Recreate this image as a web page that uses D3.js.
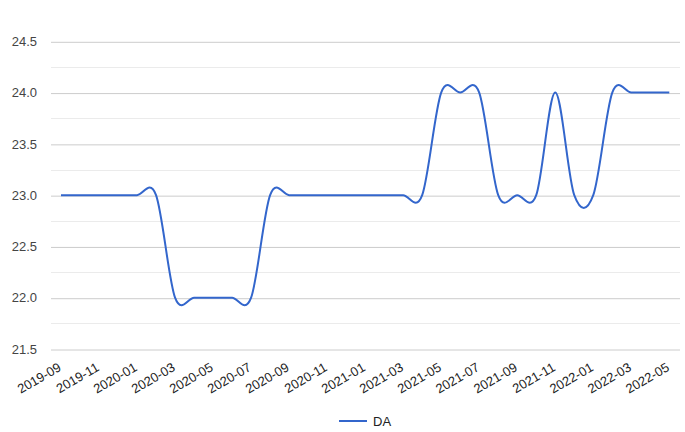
<!DOCTYPE html>
<html><head><meta charset="utf-8">
<script src="https://cdn.jsdelivr.net/npm/d3@7"></script>
<style>
html,body{margin:0;padding:0;background:#fff;}
svg{display:block;font-family:"Liberation Sans",Arial,sans-serif;}
</style></head>
<body><svg id="c" width="685" height="432"></svg>
<script>
const months = ["2019-09","2019-10","2019-11","2019-12","2020-01","2020-02","2020-03","2020-04","2020-05","2020-06","2020-07","2020-08","2020-09","2020-10","2020-11","2020-12","2021-01","2021-02","2021-03","2021-04","2021-05","2021-06","2021-07","2021-08","2021-09","2021-10","2021-11","2021-12","2022-01","2022-02","2022-03","2022-04","2022-05"];
const daValues = [23,23,23,23,23,23,22,22,22,22,22,23,23,23,23,23,23,23,23,23,24,24,24,23,23,23,24,23,23,24,24,24,24];
const yTicks = [21.5,22.0,22.5,23.0,23.5,24.0,24.5];
const yMinorTicks = [21.75,22.25,22.75,23.25,23.75,24.25];
const xTickLabels = months.filter((m,i)=>i%2===0);
const seriesName = "DA";

const svg = d3.select("#c");
const plotLeft = 51, plotRight = 680;
const x = d3.scalePoint().domain(months).range([61, 669.3]);
const y = d3.scaleLinear().domain([21.5, 24.5]).range([349, 41.3]);

// minor gridlines
svg.append("g").selectAll("line").data(yMinorTicks).join("line")
  .attr("x1", plotLeft).attr("x2", plotRight)
  .attr("y1", d=>Math.round(y(d))+0.5).attr("y2", d=>Math.round(y(d))+0.5)
  .attr("stroke", "#ebebeb").attr("stroke-width", 1);

// major gridlines + labels via axis
const yAxis = d3.axisLeft(y).tickValues(yTicks).tickFormat(d3.format(".1f"))
  .tickSize(-(plotRight-plotLeft)).tickPadding(14);
const gy = svg.append("g").attr("transform", `translate(${plotLeft},0)`).call(yAxis);
gy.select(".domain").remove();
gy.selectAll(".tick line").attr("stroke", "#cccccc").attr("transform","translate(0,0.5)");
gy.selectAll(".tick text").attr("fill", "#444").attr("font-size", 13)
  .attr("font-family", "'Liberation Sans',Arial,sans-serif");

// x axis labels
const xAxis = d3.axisBottom(x).tickValues(xTickLabels).tickSize(0).tickPadding(0);
const gx = svg.append("g").attr("transform", "translate(0,0)").call(xAxis);
gx.select(".domain").remove();
gx.selectAll(".tick").attr("transform", d=>`translate(${x(d)+1},370)`);
gx.selectAll(".tick text")
  .attr("y", 0).attr("dy", 0).attr("x", 0)
  .attr("transform", "rotate(-30)")
  .attr("text-anchor", "end")
  .attr("fill", "#222").attr("font-size", 13)
  .attr("font-family", "'Liberation Sans',Arial,sans-serif");

// line
const line = d3.line().x((d,i)=>x(months[i])).y(d=>y(d)).curve(d3.curveCardinal.tension(0));
svg.append("path").datum(daValues).attr("d", line)
  .attr("fill", "none").attr("stroke", "#3366cc").attr("stroke-width", 2);

// legend
svg.append("line").attr("x1", 339).attr("x2", 367).attr("y1", 421).attr("y2", 421)
  .attr("stroke", "#3366cc").attr("stroke-width", 2);
svg.append("text").attr("x", 373).attr("y", 421).attr("dy", "0.35em")
  .attr("font-size", 13).attr("fill", "#222").text(seriesName);
</script></body></html>
